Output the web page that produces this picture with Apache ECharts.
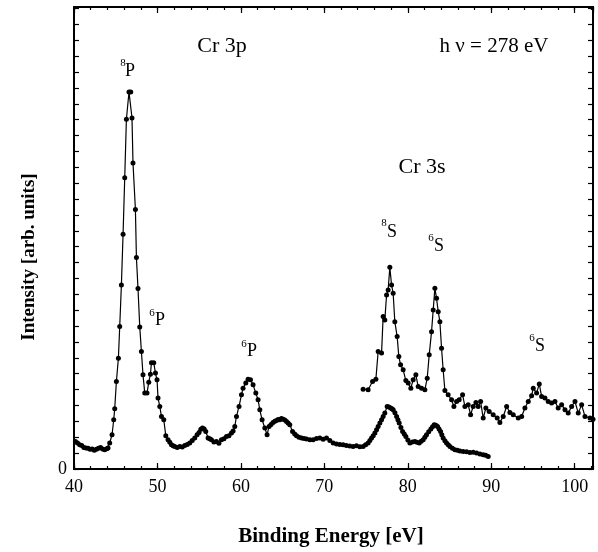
<!DOCTYPE html>
<html>
<head>
<meta charset="utf-8">
<script src="https://cdn.jsdelivr.net/npm/echarts@6/dist/echarts.min.js"></script>
<style>
html,body{margin:0;padding:0;background:#fff;}
#chart{width:598px;height:552px;}
</style>
</head>
<body>
<div id="chart"></div>
<script>
// Cr 3p spectrum (binding energy eV, intensity in tick units)
var cr3pX = [40.17,40.42,40.68,40.93,41.18,41.43,41.68,41.93,42.18,42.43,42.68,42.93,43.18,43.43,43.68,43.93,44.08,44.28,44.56,44.76,44.88,45.08,45.32,45.48,45.68,45.88,46.08,46.28,46.59,46.80,46.95,47.07,47.36,47.48,47.67,47.88,48.08,48.27,48.48,48.75,48.96,49.16,49.28,49.56,49.76,49.95,50.07,50.28,50.48,50.76,51.00,51.27,51.48,51.68,51.88,52.07,52.37,52.67,52.97,53.27,53.57,53.87,54.17,54.47,54.75,54.99,55.20,55.40,55.60,55.79,56.07,56.27,56.47,56.77,57.07,57.37,57.67,57.97,58.27,58.57,58.87,59.07,59.27,59.47,59.78,60.07,60.26,60.59,60.86,61.15,61.46,61.79,62.06,62.27,62.54,62.87,63.14,63.38,63.62,63.86,64.07,64.27,64.46,64.66,64.86,65.06,65.27,65.47,65.66,65.86,66.19,66.45,66.67,66.97,67.27,67.57,67.87,68.27,68.66,69.06,69.46,69.86,70.26,70.66,71.06,71.46,71.86,72.25,72.65,73.05,73.45,73.85,74.25,74.65,74.95,75.25,75.46,75.66,75.86,76.06,76.26,76.45,76.66,76.86,77.05,77.25,77.53,77.74,77.94,78.10,78.25,78.46,78.66,78.82,78.97,79.18,79.38,79.58,79.77,80.01,80.25,80.55,80.85,81.11,81.37,81.61,81.85,82.05,82.25,82.51,82.77,82.97,83.17,83.37,83.57,83.75,83.93,84.08,84.24,84.45,84.65,84.85,85.05,85.35,85.65,85.95,86.25,86.64,87.05,87.45,87.85,88.25,88.65,89.04,89.34,89.64];
var cr3pY = [1.74,1.64,1.53,1.48,1.36,1.32,1.30,1.24,1.26,1.18,1.24,1.30,1.36,1.26,1.21,1.28,1.32,1.64,2.16,3.10,3.79,5.51,6.98,8.97,11.59,14.78,18.34,22.03,23.75,23.75,22.11,19.28,16.35,13.32,11.37,8.95,7.40,5.93,4.78,4.78,5.47,5.97,6.70,6.70,6.04,5.62,4.47,3.94,3.31,3.10,2.09,1.84,1.68,1.53,1.46,1.42,1.36,1.42,1.38,1.48,1.55,1.64,1.80,1.95,2.15,2.30,2.50,2.58,2.52,2.36,1.95,1.90,1.84,1.70,1.74,1.62,1.84,1.90,2.05,2.10,2.26,2.40,2.68,3.31,3.94,4.67,5.09,5.41,5.66,5.62,5.30,4.78,4.36,3.73,3.10,2.58,2.16,2.68,2.80,2.93,3.00,3.06,3.12,3.10,3.18,3.14,3.08,2.99,2.90,2.79,2.36,2.20,2.09,2.00,1.95,1.92,1.89,1.84,1.84,1.92,1.95,1.88,1.95,1.80,1.64,1.58,1.55,1.53,1.48,1.45,1.42,1.46,1.40,1.42,1.52,1.64,1.80,1.95,2.10,2.26,2.48,2.68,2.90,3.10,3.30,3.52,3.94,3.90,3.84,3.80,3.73,3.55,3.31,3.10,2.89,2.62,2.36,2.20,2.05,1.82,1.64,1.70,1.74,1.68,1.64,1.75,1.84,2.00,2.16,2.35,2.52,2.66,2.79,2.75,2.68,2.52,2.36,2.15,1.95,1.78,1.64,1.52,1.42,1.30,1.21,1.18,1.14,1.11,1.08,1.04,1.06,1.01,0.95,0.90,0.86,0.79];

// Cr 3s spectrum (scaled, offset)
var cr3sX = [74.65,75.25,75.78,76.18,76.45,76.86,77.05,77.25,77.46,77.65,77.85,78.06,78.25,78.45,78.73,78.93,79.14,79.45,79.77,80.05,80.37,80.65,80.97,81.25,81.65,82.05,82.33,82.57,82.85,83.05,83.25,83.45,83.65,83.85,84.05,84.24,84.45,84.84,85.25,85.53,85.85,86.16,86.57,86.85,87.24,87.53,87.84,88.17,88.44,88.73,89.04,89.36,89.76,90.24,90.72,91.04,91.44,91.85,92.24,92.64,93.24,93.65,94.04,94.44,94.84,95.04,95.44,95.76,96.04,96.44,96.83,97.24,97.64,98.03,98.44,98.84,99.23,99.64,100.04,100.43,100.84,101.24,101.84,102.2];
var cr3sY = [5.03,4.99,5.51,5.66,7.40,7.30,9.60,9.39,10.96,11.28,12.70,11.59,11.07,9.28,8.34,7.08,6.56,6.25,5.57,5.41,5.09,5.62,5.93,5.19,5.09,4.99,5.72,7.19,8.65,10.02,11.38,10.75,9.91,9.28,7.61,6.25,4.94,4.67,4.36,3.94,4.25,4.36,4.67,3.94,4.04,3.42,3.94,4.19,3.94,4.25,3.21,3.84,3.62,3.42,3.21,2.93,3.31,3.94,3.56,3.42,3.21,3.31,3.84,4.25,4.61,5.09,4.78,5.36,4.57,4.47,4.25,4.15,4.25,3.84,4.04,3.73,3.52,3.94,4.25,3.52,4.04,3.31,3.21,3.14];

var xTicksMajor = 10, xTicksMinor = 2;
var xMin = 40, xMax = 102.2;
var yMin = 0, yMax = 29.1;

var xTitle = 'Binding Energy [eV]';
var yTitle = 'Intensity [arb. units]';

function pairs(xs, ys){ var r=[]; for(var i=0;i<xs.length;i++) r.push([xs[i], ys[i]]); return r; }

var FONT = 'Liberation Serif';
var chart = echarts.init(document.getElementById('chart'), null, {renderer:'canvas'});

function xAx(pos, interval, tickLen, showLabel){
  return {
    type:'value', position:pos, min:xMin, max:xMax, interval:interval,
    axisLine:{show:true, onZero:false, lineStyle:{color:'#000', width:2}},
    axisTick:{show:true, inside:true, length:tickLen, lineStyle:{color:'#000', width:1.2}},
    axisLabel:{show:showLabel, showMaxLabel:false, color:'#000', fontFamily:FONT, fontSize:18, margin:9},
    splitLine:{show:false}
  };
}
function yAx(pos, showLabel){
  return {
    type:'value', position:pos, min:yMin, max:yMax, interval:1,
    axisLine:{show:true, onZero:false, lineStyle:{color:'#000', width:2}},
    axisTick:{show:true, inside:true, length:5, lineStyle:{color:'#000', width:1.2}},
    axisLabel:{show:showLabel, showMaxLabel:false, color:'#000', fontFamily:FONT, fontSize:18, margin:7,
      formatter:function(v){ return v===0 ? '0' : ''; }},
    splitLine:{show:false}
  };
}

function txt(x, y, s, size, weight, rot){
  var o = {type:'text', x:x, y:y, z:10,
    style:{text:s, fill:'#000', font:(weight||'normal')+' '+size+'px "'+FONT+'"', align:'center', verticalAlign:'middle'}};
  if (rot) o.rotation = rot;
  return o;
}

var option = {
  animation:false,
  backgroundColor:'#fff',
  grid:{left:74, right:5, top:7, bottom:83, containLabel:false},
  xAxis:[xAx('bottom', xTicksMajor, 6, true), xAx('bottom', xTicksMinor, 3, false), xAx('top', xTicksMajor, 6, false), xAx('top', xTicksMinor, 3, false)],
  yAxis:[yAx('left', true), yAx('right', false)],
  series:[
    {type:'line', xAxisIndex:0, yAxisIndex:0, data:pairs(cr3pX, cr3pY), symbol:'circle', symbolSize:5,
     itemStyle:{color:'#000'}, lineStyle:{color:'#000', width:1.2}},
    {type:'line', xAxisIndex:0, yAxisIndex:0, data:pairs(cr3sX, cr3sY), symbol:'circle', symbolSize:5,
     itemStyle:{color:'#000'}, lineStyle:{color:'#000', width:1.2}}
  ],
  graphic:[
    txt(331, 537, xTitle, 21, 'bold'),
    txt(29, 257, yTitle, 19, 'bold', Math.PI/2),
    txt(222, 46, 'Cr 3p', 22),
    txt(494, 46, 'h \u03bd = 278 eV', 21),
    txt(422, 167, 'Cr 3s', 22),
    txt(123, 63, '8', 11), txt(130, 71, 'P', 18),
    txt(152, 313, '6', 11), txt(160, 320, 'P', 18),
    txt(244, 344, '6', 11), txt(252, 351, 'P', 18),
    txt(384, 223, '8', 11), txt(392, 232, 'S', 18),
    txt(431, 238, '6', 11), txt(439, 246, 'S', 18),
    txt(532, 338, '6', 11), txt(540, 346, 'S', 18)
  ]
};
chart.setOption(option);
</script>
</body>
</html>
